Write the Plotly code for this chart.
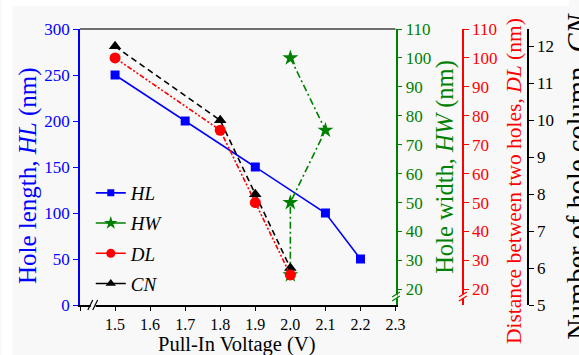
import plotly.graph_objects as go

# ---------------- data ----------------
x_hl = [1.5, 1.7, 1.9, 2.1, 2.2]
hl = [250, 200, 150, 100, 50]

x_hw = [2.0, 2.1, 2.0, 2.0]
hw = [100, 75, 50, 25]

x_dl = [1.5, 1.8, 1.9, 2.0]
dl = [100, 75, 50, 25]

x_cn = [1.5, 1.8, 1.9, 2.0]
cn = [12, 10, 8, 6]

x_ticks = [1.4, 1.5, 1.6, 1.7, 1.8, 1.9, 2.0, 2.1, 2.2, 2.3]
x_ticktext = ["", "1.5", "1.6", "1.7", "1.8", "1.9", "2.0", "2.1", "2.2", "2.3"]
hl_ticks = [0, 50, 100, 150, 200, 250, 300]
hw_ticks = [20, 30, 40, 50, 60, 70, 80, 90, 100, 110]
dl_ticks = [20, 30, 40, 50, 60, 70, 80, 90, 100, 110]
cn_ticks = [5, 6, 7, 8, 9, 10, 11, 12]

# ---------------- layout geometry ----------------
W, H = 579, 355
ML, MR, MT, MB = 80, 0, 29, 50
PW = W - ML - MR
PH = H - MT - MB


def px_x(px):
    return (px - ML) / PW


def px_y(py):
    return (H - MB - py) / PH


x_end = px_x(402)
FONT = "Liberation Serif"
BLUE, GREEN, RED, BLACK = "#0000ff", "#008000", "#ff0000", "#000000"
BG = "#f8f8f8"

series = [
    # name, x, y, axis, color, dash, symbol, size
    ("<i>HL</i>", x_hl, hl, "y", BLUE, "solid", "square", 9),
    ("<i>HW</i>", x_hw, hw, "y2", GREEN, "7px,3px,2px,3px", "star", 12),
    ("<i>CN</i>", x_cn, cn, "y3", BLACK, "6px,4px", "triangle-up", 11),
    ("<i>DL</i>", x_dl, dl, "y4", RED, "5px,2px,2px,2px,2px,2px", "circle", 11),
]
legend_rank = {"<i>HL</i>": 1, "<i>HW</i>": 2, "<i>DL</i>": 3, "<i>CN</i>": 4}

fig = go.Figure()
for name, xs, ys, ax, col, dash, sym, size in series:
    fig.add_trace(go.Scatter(x=xs, y=ys, name=name, yaxis=ax, showlegend=False,
                             mode="lines+markers", line=dict(color=col, width=1.6, dash=dash),
                             marker=dict(symbol=sym, size=size, color=col)))
# legend entries (smaller symbols, as in the reference legend)
for name, xs, ys, ax, col, dash, sym, size in series:
    fig.add_trace(go.Scatter(x=[None], y=[None], name=name, yaxis=ax, showlegend=True,
                             legendrank=legend_rank[name], legendgroup=str(legend_rank[name]),
                             mode="lines+markers", line=dict(color=col, width=1.6, dash="solid"),
                             marker=dict(symbol=sym, size=size - 2, color=col)))

shapes = []
# top border
shapes.append(dict(type="line", xref="paper", yref="paper", x0=0, x1=x_end, y0=1, y1=1,
                   line=dict(color="#404040", width=1.6)))
# white strips at left / top of the image
shapes.append(dict(type="rect", xref="paper", yref="paper", x0=px_x(0), x1=px_x(11), y0=px_y(355), y1=px_y(0),
                   fillcolor="white", line=dict(width=0), layer="below"))
shapes.append(dict(type="rect", xref="paper", yref="paper", x0=px_x(0), x1=px_x(579), y0=px_y(6), y1=px_y(0),
                   fillcolor="white", line=dict(width=0), layer="below"))
# x-axis break
shapes.append(dict(type="rect", xref="paper", yref="paper", x0=px_x(91), x1=px_x(96), y0=px_y(307), y1=px_y(303),
                   fillcolor=BG, line=dict(width=0)))
for dx in (0, 5):
    shapes.append(dict(type="line", xref="paper", yref="paper", x0=px_x(88 + dx), x1=px_x(93 + dx),
                       y0=px_y(310), y1=px_y(300), line=dict(color=BLACK, width=1.2)))
# green and red axis breaks
for ax_px, col in ((402.5, GREEN), (470.7, RED)):
    shapes.append(dict(type="rect", xref="paper", yref="paper", x0=px_x(ax_px - 1.5), x1=px_x(ax_px + 1.5),
                       y0=px_y(298.5), y1=px_y(294.5), fillcolor=BG, line=dict(width=0)))
    for dy in (0, 4):
        shapes.append(dict(type="line", xref="paper", yref="paper", x0=px_x(ax_px - 4), x1=px_x(ax_px + 4),
                           y0=px_y(297 + dy), y1=px_y(292 + dy), line=dict(color=col, width=1.2)))

annotations = [
    dict(text="Pull-In Voltage (V)", showarrow=False, xref="paper", yref="paper",
         x=px_x(240.5), y=px_y(344), xanchor="center", yanchor="middle",
         font=dict(family=FONT, size=20.5, color=BLACK)),
    dict(text="Hole length, <i>HL</i> (nm)", textangle=-90, showarrow=False,
         xref="paper", yref="paper", x=px_x(27), y=px_y(176), xanchor="center", yanchor="middle",
         font=dict(family=FONT, size=25, color=BLUE)),
    dict(text="Distance between two holes, <i>DL</i> (nm)", textangle=-90, showarrow=False,
         xref="paper", yref="paper", x=px_x(523), y=px_y(181), xanchor="center", yanchor="middle",
         font=dict(family=FONT, size=21.5, color=RED)),
    dict(text="Number of hole column, <i>CN</i>", textangle=-90, showarrow=False,
         xref="paper", yref="paper", x=px_x(588), y=px_y(176), xanchor="center", yanchor="middle",
         font=dict(family=FONT, size=28.5, color=BLACK)),
]

fig.update_layout(
    width=W, height=H,
    margin=dict(l=ML, r=MR, t=MT, b=MB),
    paper_bgcolor=BG, plot_bgcolor=BG,
    font=dict(family=FONT, size=17, color=BLACK),
    showlegend=True,
    legend=dict(x=px_x(91), y=px_y(174), xanchor="left", yanchor="top",
                bgcolor="rgba(0,0,0,0)", font=dict(family=FONT, size=19),
                tracegroupgap=2.5, traceorder="grouped", itemwidth=30),
    xaxis=dict(domain=[0, x_end], range=[1.4, 2.3], tickvals=x_ticks, ticktext=x_ticktext,
               ticks="outside", ticklen=4, tickcolor=BLACK, showline=True, linecolor=BLACK, linewidth=1.5,
               showgrid=False, zeroline=False, tickfont=dict(family=FONT, size=16)),
    yaxis=dict(range=[0, 300], tickvals=hl_ticks, ticks="outside", ticklen=5, tickcolor=BLUE,
               showline=True, linecolor=BLUE, linewidth=1.5, showgrid=False, zeroline=False,
               tickfont=dict(family=FONT, size=17, color=BLUE)),
    yaxis2=dict(overlaying="y", anchor="x", side="right", range=[14.6, 110], tickvals=hw_ticks,
                ticks="outside", ticklen=5, tickcolor=GREEN, showline=True, linecolor=GREEN, linewidth=1.5,
                showgrid=False, zeroline=False, tickfont=dict(family=FONT, size=17, color=GREEN),
                title=dict(text="Hole width, <i>HW</i> (nm)", font=dict(family=FONT, size=24.5, color=GREEN), standoff=6)),
    yaxis3=dict(overlaying="y", anchor="free", side="right", position=px_x(537), range=[5, 12.47],
                tickvals=cn_ticks, ticks="outside", ticklen=5, tickcolor=BLACK, showline=True, linecolor=BLACK,
                linewidth=1.5, showgrid=False, zeroline=False, tickfont=dict(family=FONT, size=17, color=BLACK)),
    yaxis4=dict(overlaying="y", anchor="free", side="right", position=px_x(470.7), range=[14.6, 110],
                tickvals=dl_ticks, ticks="outside", ticklen=5, tickcolor=RED, showline=True, linecolor=RED,
                linewidth=1.5, showgrid=False, zeroline=False, tickfont=dict(family=FONT, size=17, color=RED)),
    shapes=shapes,
    annotations=annotations,
)

fig.write_html("out.html", config={"displayModeBar": False},
               post_script="document.body.style.margin='0px';document.body.style.overflow='hidden';")
